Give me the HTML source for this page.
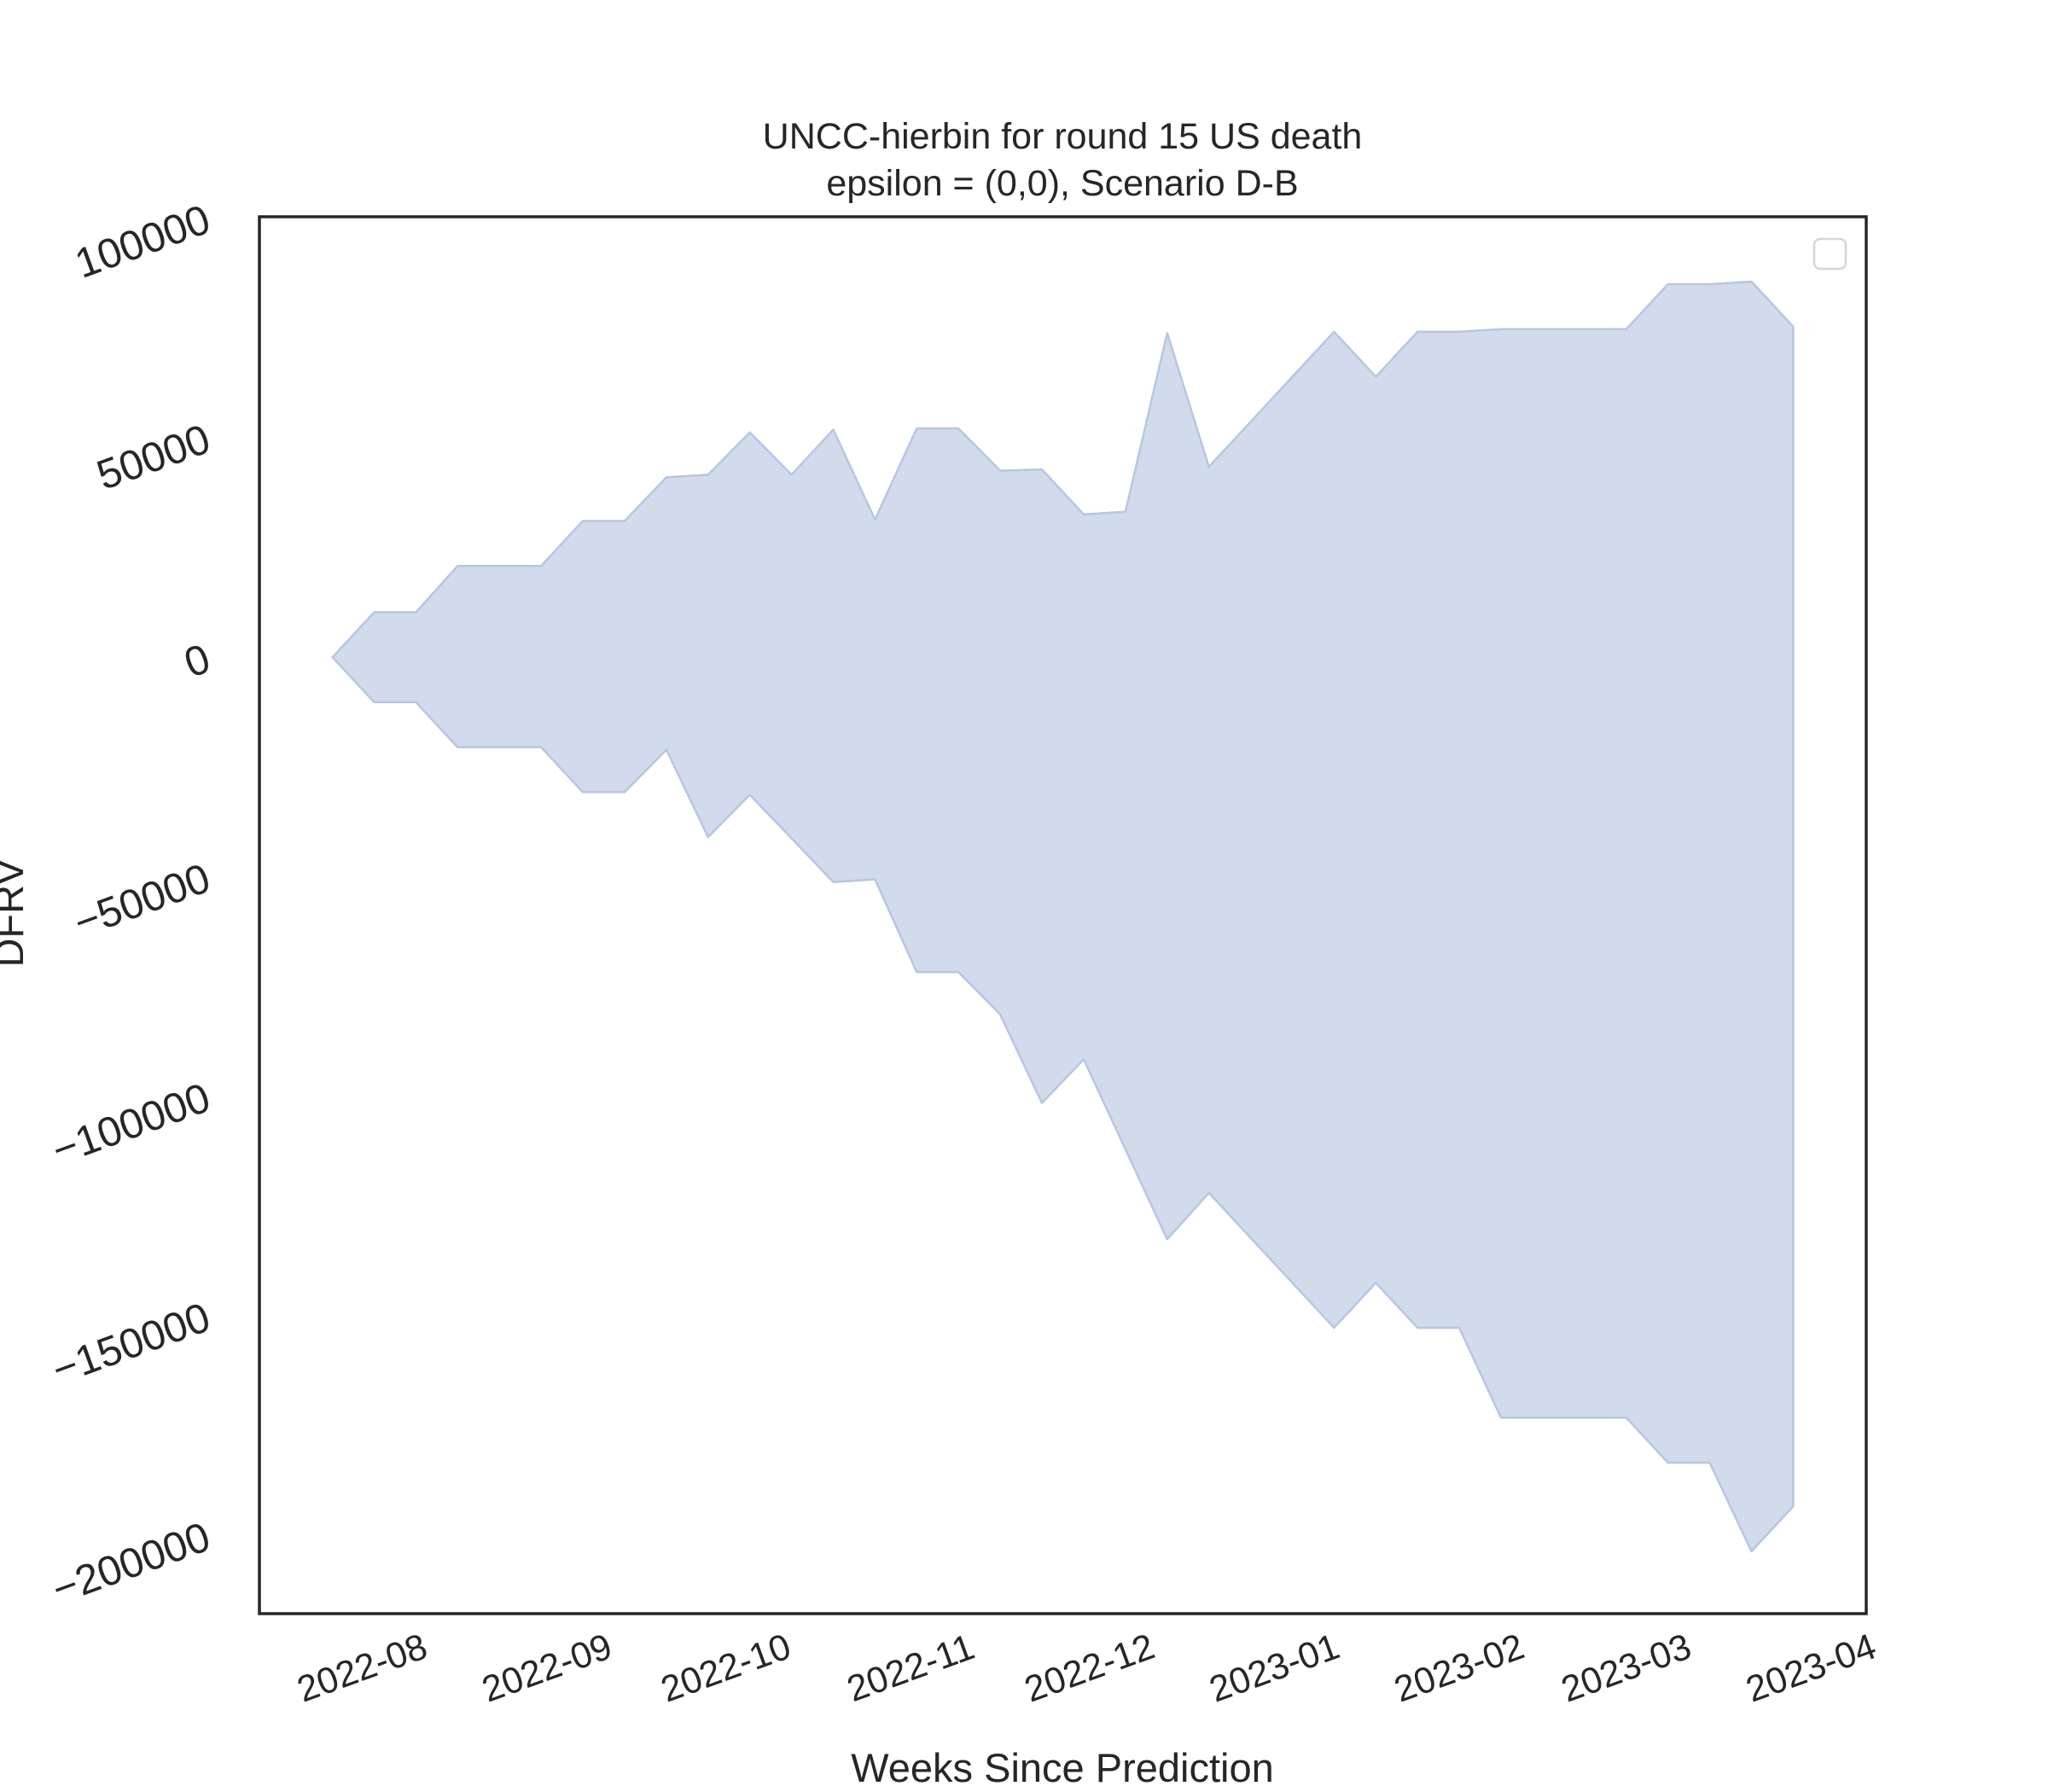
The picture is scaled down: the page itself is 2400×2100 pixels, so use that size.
<!DOCTYPE html>
<html><head><meta charset="utf-8"><style>
html,body{margin:0;padding:0;background:#fff;}
svg{display:block;font-family:"Liberation Sans",Arial,sans-serif;}
</style></head><body>
<svg id="chart" width="2400" height="2100" viewBox="0 0 2400 2100" xmlns="http://www.w3.org/2000/svg">
<rect x="0" y="0" width="2400" height="2100" fill="#ffffff"/>
<g id="plot"></g>
<rect x="304" y="254" width="1883" height="1637" fill="none" stroke="#262626" stroke-width="3.5"/>
<rect x="2126" y="280" width="37" height="35" rx="7" fill="#fff" stroke="#d6d6d6" stroke-width="2.5"/>
<text x="1245" y="174" font-size="43" text-anchor="middle" fill="#262626">UNCC-hierbin for round 15 US death</text>
<text x="1245" y="229" font-size="43" text-anchor="middle" fill="#262626">epsilon = (0,0), Scenario D-B</text>
<text x="1245" y="2088" font-size="47" text-anchor="middle" fill="#262626">Weeks Since Prediction</text>
<text x="0" y="0" font-size="47" text-anchor="middle" fill="#262626" transform="translate(27,1070) rotate(-90)">DFRV</text>
<g id="xticks"></g>
<g id="yticks"></g>
</svg>
<script>
const startDate = "2022-07-27";
const upperValues = [0,10240,10240,20780,20780,20780,31020,31020,40960,41570,51200,41570,51810,31330,52110,52110,42470,42770,32530,33130,73800,43370,53610,63860,74100,63860,74100,74100,74700,74700,74700,74700,84940,84940,85540,75300];
const lowerValues = [0,-10240,-10240,-20480,-20480,-20480,-30720,-30720,-21080,-40960,-31330,-41270,-51200,-50600,-71690,-71690,-81330,-101510,-91570,-112050,-132530,-121990,-132230,-142470,-152710,-142470,-152710,-152710,-173190,-173190,-173190,-173190,-183430,-183430,-203610,-193370];
const xTickLabels = ["2022-08","2022-09","2022-10","2022-11","2022-12","2023-01","2023-02","2023-03","2023-04"];
const yTickValues = [100000,50000,0,-50000,-100000,-150000,-200000];

const NS = "http://www.w3.org/2000/svg";
const DAY = 86400000;
const t0 = Date.parse(startDate + "T00:00:00Z");
const n = upperValues.length;
const tMin = t0 - 0.05 * (n - 1) * 7 * DAY;
const tMax = t0 + (n - 1) * 7 * DAY + 0.05 * (n - 1) * 7 * DAY;
const X0 = 304, X1 = 2187, Y0 = 254, Y1 = 1891;
const vMax = 100300, vMin = -217800;
function xScale(t){ return X0 + (t - tMin) / (tMax - tMin) * (X1 - X0); }
function yScale(v){ return Y0 + (vMax - v) / (vMax - vMin) * (Y1 - Y0); }

const plot = document.getElementById("plot");
let pts = [];
for (let i = 0; i < n; i++) pts.push(xScale(t0 + i*7*DAY).toFixed(1) + "," + yScale(upperValues[i]).toFixed(1));
for (let i = n - 1; i >= 0; i--) pts.push(xScale(t0 + i*7*DAY).toFixed(1) + "," + yScale(lowerValues[i]).toFixed(1));
const poly = document.createElementNS(NS, "polygon");
poly.setAttribute("points", pts.join(" "));
poly.setAttribute("fill", "rgb(210,219,235)");
poly.setAttribute("stroke", "rgb(184,198,224)");
poly.setAttribute("stroke-width", "2.5");
poly.setAttribute("stroke-linejoin", "round");


plot.appendChild(poly);

const xg = document.getElementById("xticks");
xTickLabels.forEach(function(lab){
  const x = xScale(Date.parse(lab + "-01T00:00:00Z"));
  const t = document.createElementNS(NS, "text");
  t.textContent = lab;
  t.setAttribute("font-size", "43");
  t.setAttribute("fill", "#262626");
  t.setAttribute("text-anchor", "middle");
  t.setAttribute("dominant-baseline", "central");
  t.setAttribute("transform", "translate(" + x.toFixed(1) + ",1955) rotate(-20)");
  
  
  xg.appendChild(t);
});

const yg = document.getElementById("yticks");
yTickValues.forEach(function(v){
  const y = yScale(v);
  const t = document.createElementNS(NS, "text");
  t.textContent = v < 0 ? "\u2212" + Math.abs(v) : String(v);
  t.setAttribute("font-size", "49");
  t.setAttribute("fill", "#262626");
  t.setAttribute("text-anchor", "end");
  t.setAttribute("dominant-baseline", "central");
  t.setAttribute("transform", "translate(244," + y.toFixed(1) + ") rotate(-20)");
  
  
  yg.appendChild(t);
});
</script>
</body></html>
